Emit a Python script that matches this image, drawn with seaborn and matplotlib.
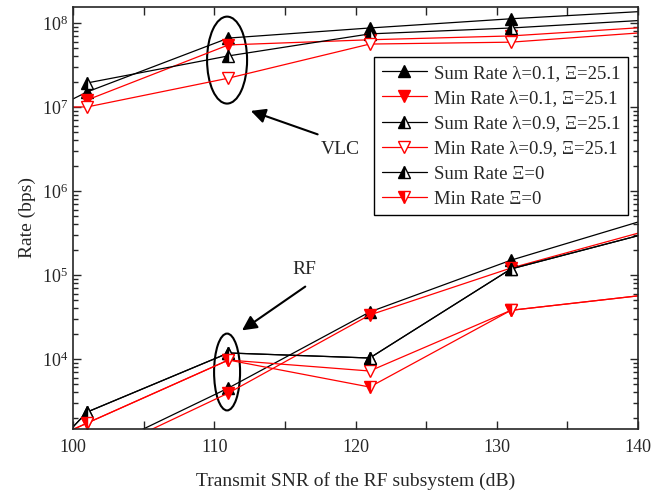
import seaborn as sns
import matplotlib.pyplot as plt
import matplotlib.ticker as mticker
from matplotlib.patches import Ellipse
import numpy as np

# SNR points (dB); the extended list has one point left of the axis
snr = [101, 111, 121, 131, 141]
snr_ext = [91, 101, 111, 121, 131, 141]

# VLC subsystem rates (bps)
vlc_sum_l01 = [2.2e6, 1.51e7, 6.6e7, 8.7e7, 1.12e8, 1.39e8]
vlc_min_l01 = [1.21e7, 5.47e7, 6.3e7, 7.0e7, 8.96e7]
vlc_sum_l09 = [1.93e7, 4.05e7, 7.4e7, 8.7e7, 1.09e8]
vlc_min_l09 = [1.0e7, 1.0e7, 2.2e7, 5.6e7, 5.9e7, 7.8e7]

# RF subsystem rates (bps)
rf_sum_l01 = [700, 4520, 36300, 1.5e5, 4.8e5]
rf_min_l01 = [630, 3940, 33400, 1.21e5, 3.5e5]
rf_sum_l09 = [40, 2340, 11800, 10280, 1.18e5, 3.25e5]
rf_min_l09 = [300, 1730, 9730, 7200, 3.8e4, 5.9e4]
rf_sum_x0 = [40, 2340, 11800, 10280, 1.18e5, 3.25e5]
rf_min_x0 = [300, 1730, 9730, 4640, 3.8e4, 5.9e4]

labels = ['Sum Rate λ=0.1, Ξ=25.1', 'Min Rate λ=0.1, Ξ=25.1',
          'Sum Rate λ=0.9, Ξ=25.1', 'Min Rate λ=0.9, Ξ=25.1',
          'Sum Rate Ξ=0', 'Min Rate Ξ=0']

sns.set_style('ticks')
plt.rcParams['font.family'] = ['Liberation Serif', 'DejaVu Serif']
plt.rcParams['mathtext.fontset'] = 'stix'

RED = '#ff0000'
styles = {
    'sum01': dict(color='black', marker='^', markerfacecolor='black', markeredgecolor='black'),
    'min01': dict(color=RED, marker='v', markerfacecolor=RED, markeredgecolor=RED),
    'sum09': dict(color='black', marker='^', fillstyle='left', markerfacecolor='black',
                  markerfacecoloralt='white', markeredgecolor='black'),
    'min09': dict(color=RED, marker='v', markerfacecolor='white', markeredgecolor=RED),
    'sumx0': dict(color='black', marker='^', fillstyle='left', markerfacecolor='black',
                  markerfacecoloralt='white', markeredgecolor='black'),
    'minx0': dict(color=RED, marker='v', fillstyle='left', markerfacecolor=RED,
                  markerfacecoloralt='white', markeredgecolor=RED),
}

fig, ax = plt.subplots(figsize=(6.64, 4.94), dpi=100)
fig.subplots_adjust(left=0.110, right=0.961, top=0.986, bottom=0.1316)

common = dict(ax=ax, linewidth=0.9, markersize=9, markeredgewidth=1.0, estimator=None)

# VLC curves (carry the legend labels for the first four entries)
sns.lineplot(x=snr_ext, y=vlc_sum_l01, label=labels[0], **styles['sum01'], **common)
sns.lineplot(x=snr, y=vlc_min_l01, label=labels[1], **styles['min01'], **common)
sns.lineplot(x=snr, y=vlc_sum_l09, label=labels[2], **styles['sum09'], **common)
sns.lineplot(x=snr_ext, y=vlc_min_l09, label=labels[3], **styles['min09'], **common)

# RF curves
sns.lineplot(x=snr, y=rf_sum_l01, **styles['sum01'], **common)
sns.lineplot(x=snr, y=rf_min_l01, **styles['min01'], **common)
sns.lineplot(x=snr_ext, y=rf_sum_l09, **styles['sum09'], **common)
sns.lineplot(x=snr_ext, y=rf_min_l09, **styles['min09'], **common)
sns.lineplot(x=snr_ext, y=rf_sum_x0, label=labels[4], **styles['sumx0'], **common)
sns.lineplot(x=snr_ext, y=rf_min_x0, label=labels[5], **styles['minx0'], **common)

ax.set_yscale('log')
ax.set_xlim(100, 140)
ax.set_ylim(1.47e3, 1.55e8)

ax.xaxis.set_major_locator(mticker.MultipleLocator(10))
ax.xaxis.set_minor_locator(mticker.MultipleLocator(5))
ax.yaxis.set_major_locator(mticker.LogLocator(base=10, numticks=20))
ax.yaxis.set_minor_locator(mticker.LogLocator(base=10, subs=np.arange(2, 10), numticks=20))
ax.yaxis.set_minor_formatter(mticker.NullFormatter())
ax.tick_params(which='both', direction='in', top=True, right=True, width=1.0, labelsize=13)
ax.tick_params(which='major', length=6)
ax.tick_params(axis='x', which='minor', length=6)
ax.tick_params(axis='y', which='minor', length=3.5)
ax.tick_params(axis='x', pad=7)
for sp in ax.spines.values():
    sp.set_linewidth(1.2)

ax.set_xlabel('Transmit SNR of the RF subsystem (dB)', fontsize=14, labelpad=12)
ax.set_ylabel('Rate (bps)', fontsize=14, labelpad=4)

# ellipses marking the 111 dB groups
ax.add_patch(Ellipse((0.2726, 0.874), 0.0708, 0.206, transform=ax.transAxes,
                     fill=False, edgecolor='black', linewidth=1.5))
ax.add_patch(Ellipse((0.2726, 0.135), 0.046, 0.182, transform=ax.transAxes,
                     fill=False, edgecolor='black', linewidth=1.5))

arrow = dict(arrowstyle='-|>', color='black', lw=1.5, mutation_scale=22)
ax.annotate('', xy=(112.4, 9.2e6), xytext=(117.5, 4.6e6), arrowprops=arrow)
ax.text(118.9, 3.1e6, 'VLC', fontsize=14, ha='center', va='center')
ax.annotate('', xy=(111.8, 2.1e4), xytext=(116.6, 7.6e4), arrowprops=arrow)
ax.text(116.4, 1.15e5, 'RF', fontsize=14, ha='center', va='center')

handles, labs = ax.get_legend_handles_labels()
leg = ax.legend(handles, labs, loc='upper left', bbox_to_anchor=(0.533, 0.881),
                fontsize=13.5, frameon=True, fancybox=False, edgecolor='black',
                framealpha=1, handlelength=2.4, handletextpad=0.4,
                labelspacing=0.43, borderpad=0.4, borderaxespad=0)
leg.get_frame().set_linewidth(1.0)

fig.savefig('out.png', dpi=100)
